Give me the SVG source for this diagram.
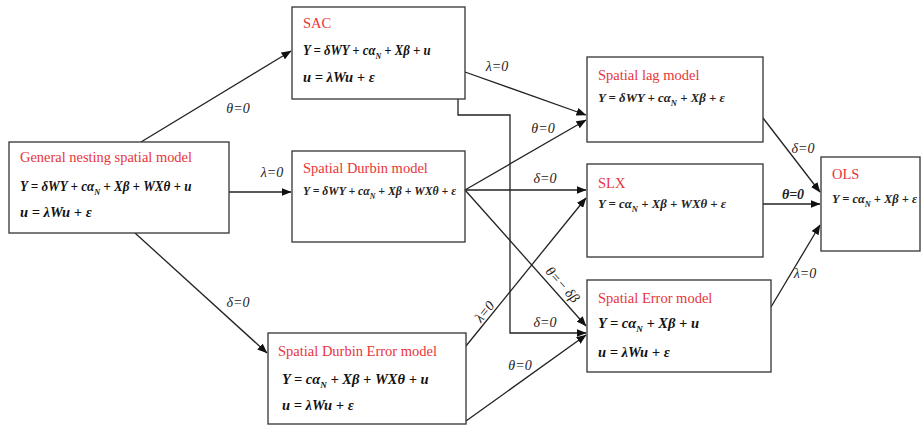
<svg xmlns="http://www.w3.org/2000/svg" width="923" height="425" viewBox="0 0 923 425">
<style>
.box{fill:#fff;stroke:#333;stroke-width:1.3}
.t{font-family:"Liberation Serif",serif;font-size:14.5px;fill:#e8353a}
.eq{font-family:"Liberation Serif",serif;font-size:14.5px;font-style:italic;font-weight:bold;fill:#111}
.eqs{font-family:"Liberation Serif",serif;font-size:13.5px;font-style:italic;font-weight:bold;fill:#222}
.sub{font-size:9px}
.lbl{font-family:"Liberation Serif",serif;font-size:14px;font-style:italic;fill:#222;text-anchor:middle}
.c{fill:none;stroke:#222;stroke-width:1.3}
</style>
<defs>
<marker id="ah" markerWidth="10" markerHeight="8" refX="9.5" refY="4" orient="auto" markerUnits="userSpaceOnUse">
<path d="M0,0 L10,4 L0,8 Z" fill="#111"/>
</marker>
</defs>
<rect width="923" height="425" fill="#fff"/>
<g id="connectors">
<line class="c" x1="141" y1="142" x2="291" y2="51" marker-end="url(#ah)"/>
<line class="c" x1="229" y1="192" x2="291" y2="192" marker-end="url(#ah)"/>
<line class="c" x1="135" y1="233" x2="267" y2="353" marker-end="url(#ah)"/>
<line class="c" x1="465" y1="72" x2="586" y2="115" marker-end="url(#ah)"/>
<polyline class="c" points="458,99 458,115 510,115 510,333 586,333" marker-end="url(#ah)"/>
<line class="c" x1="465" y1="190" x2="586" y2="120" marker-end="url(#ah)"/>
<line class="c" x1="465" y1="190" x2="586" y2="190" marker-end="url(#ah)"/>
<line class="c" x1="465" y1="190" x2="586" y2="326" marker-end="url(#ah)"/>
<line class="c" x1="466" y1="346" x2="586" y2="198" marker-end="url(#ah)"/>
<line class="c" x1="466" y1="421" x2="586" y2="335" marker-end="url(#ah)"/>
<line class="c" x1="763" y1="118" x2="820" y2="192" marker-end="url(#ah)"/>
<line class="c" x1="763" y1="204" x2="820" y2="204" marker-end="url(#ah)"/>
<line class="c" x1="771" y1="307" x2="820" y2="225" marker-end="url(#ah)"/>
<text class="lbl" x="238" y="113">θ=0</text>
<text class="lbl" x="272" y="177">λ=0</text>
<text class="lbl" x="238" y="307">δ=0</text>
<text class="lbl" x="497" y="71">λ=0</text>
<text class="lbl" x="543" y="133">θ=0</text>
<text class="lbl" x="545" y="183">δ=0</text>
<text class="lbl" transform="translate(562,285) rotate(48)" x="0" y="4">θ=− δβ</text>
<text class="lbl" transform="translate(485,312) rotate(-51)" x="0" y="4">λ=0</text>
<text class="lbl" x="545" y="327">δ=0</text>
<text class="lbl" x="520" y="370">θ=0</text>
<text class="lbl" x="803" y="153">δ=0</text>
<text class="lbl" x="793" y="199" font-weight="bold">θ=0</text>
<text class="lbl" x="805" y="278">λ=0</text>
</g>
<g id="gns">
<rect class="box" x="9" y="142" width="220" height="91"/>
<text class="t" x="20" y="162" textLength="172" lengthAdjust="spacingAndGlyphs">General nesting spatial model</text>
<text class="eq" transform="translate(20,191) scale(0.9,1)">Y = δWY + cα<tspan class="sub" dy="4">N</tspan><tspan dy="-4"> + Xβ + WXθ + u</tspan></text>
<text class="eq" x="20" y="217">u = λWu + ε</text>
</g>
<g id="sac">
<rect class="box" x="292" y="7" width="173" height="92"/>
<text class="t" x="303" y="28">SAC</text>
<text class="eq" transform="translate(303,55) scale(0.88,1)">Y = δWY + cα<tspan class="sub" dy="4">N</tspan><tspan dy="-4"> + Xβ + u</tspan></text>
<text class="eq" x="303" y="82">u = λWu + ε</text>
</g>
<g id="sdm">
<rect class="box" x="292" y="151" width="173" height="91"/>
<text class="t" x="303" y="173">Spatial Durbin model</text>
<text class="eqs" transform="translate(303,195) scale(0.87,1)">Y = δWY + cα<tspan class="sub" dy="4">N</tspan><tspan dy="-4"> + Xβ + WXθ + ε</tspan></text>
</g>
<g id="sl">
<rect class="box" x="587" y="57" width="176" height="85"/>
<text class="t" x="598" y="80">Spatial lag model</text>
<text class="eqs" transform="translate(598,102) scale(0.95,1)">Y = δWY + cα<tspan class="sub" dy="4">N</tspan><tspan dy="-4"> + Xβ + ε</tspan></text>
</g>
<g id="slx">
<rect class="box" x="587" y="164" width="176" height="93"/>
<text class="t" x="598" y="188">SLX</text>
<text class="eqs" transform="translate(598,208) scale(0.95,1)">Y = cα<tspan class="sub" dy="4">N</tspan><tspan dy="-4"> + Xβ + WXθ + ε</tspan></text>
</g>
<g id="sem">
<rect class="box" x="587" y="280" width="184" height="92"/>
<text class="t" x="598" y="303">Spatial Error model</text>
<text class="eq" x="598" y="328">Y = cα<tspan class="sub" dy="4">N</tspan><tspan dy="-4"> + Xβ + u</tspan></text>
<text class="eq" x="598" y="357">u = λWu + ε</text>
</g>
<g id="ols">
<rect class="box" x="821" y="157" width="99" height="94"/>
<text class="t" x="832" y="179">OLS</text>
<text class="eqs" transform="translate(832,203) scale(0.92,1)">Y = cα<tspan class="sub" dy="4">N</tspan><tspan dy="-4"> + Xβ + ε</tspan></text>
</g>
<g id="sdem">
<rect class="box" x="268" y="333" width="198" height="91"/>
<text class="t" x="278" y="356">Spatial Durbin Error model</text>
<text class="eq" x="282" y="384">Y = cα<tspan class="sub" dy="4">N</tspan><tspan dy="-4"> + Xβ + WXθ + u</tspan></text>
<text class="eq" x="282" y="410">u = λWu + ε</text>
</g>
</svg>
